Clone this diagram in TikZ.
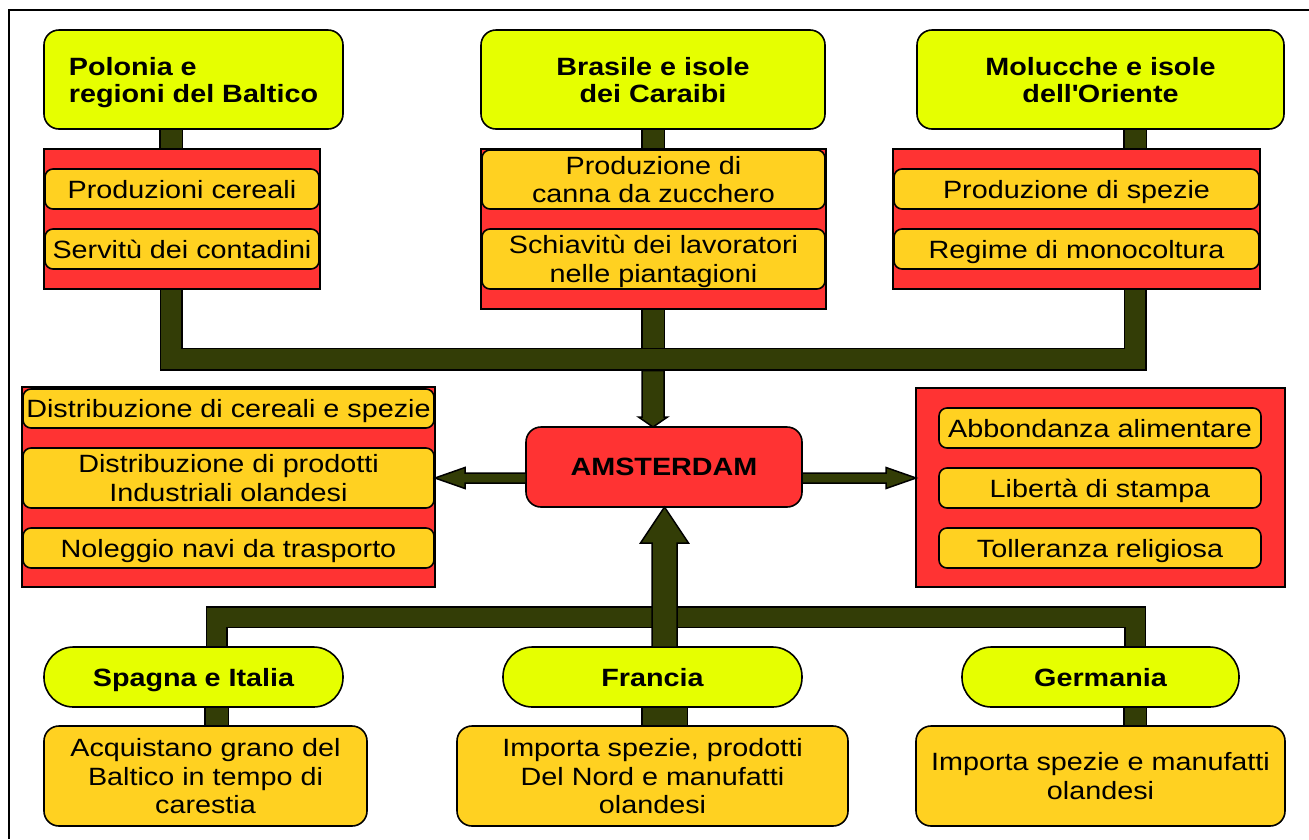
\documentclass[tikz,border=0pt]{standalone}
\usepackage{fontspec}
\setmainfont{Liberation Sans}[FakeStretch=1.15]
\pgfdeclarelayer{bg}
\pgfsetlayers{bg,main}
\definecolor{yelc}{RGB}{230,255,0}
\definecolor{redc}{RGB}{255,51,51}
\definecolor{orac}{RGB}{255,209,33}
\definecolor{olivec}{RGB}{51,61,6}
\tikzset{
  base/.style={draw=black, line width=1.6pt, inner sep=0pt, outer sep=0pt, align=center, text depth=0pt},
  title/.style={base, fill=yelc, rounded corners=15pt, font=\fontsize{25}{27}\selectfont\bfseries},
  redbox/.style={base, fill=redc},
  item/.style={base, fill=orac, rounded corners=8pt, font=\fontsize{25}{28.5}\selectfont},
  stad/.style={base, fill=yelc, rounded corners=29.5pt, font=\fontsize{25}{27}\selectfont\bfseries},
  info/.style={base, fill=orac, rounded corners=15pt, font=\fontsize{25}{28.5}\selectfont},
  hub/.style={base, fill=redc, rounded corners=15pt, font=\fontsize{25}{27}\selectfont\bfseries},
  pipe/.style={draw=black, line width=1.5pt, double=olivec, double distance=#1, line join=miter},
  pipe/.default=21pt,
  arr/.style={draw=black, fill=olivec, line width=1.5pt, line join=miter}
}
\begin{document}
\begin{tikzpicture}[x=1pt,y=-1pt]
\useasboundingbox (0,0) rectangle (1309,839);
\begin{pgfonlayer}{bg}
\fill[white] (0,0) rectangle (1309,839);
\end{pgfonlayer}
\draw[line width=2pt] (9,839) -- (9,10) -- (1309,10);

% columns and bar levels
\coordinate (c1) at (171,0);
\coordinate (c2) at (653,0);
\coordinate (c3) at (1135,0);
\coordinate (c4) at (216.5,0);
\coordinate (c5) at (664.5,0);
\coordinate (bar1) at (0,359);
\coordinate (bar2) at (0,617);
\coordinate (ay) at (0,478);

% top titles
\node[title, minimum width=299pt, minimum height=99pt, align=left] (pol) at (193.5,79.5) {Polonia e\\regioni del Baltico};
\node[title, minimum width=344pt, minimum height=99pt] (bra) at (653,79.5) {Brasile e isole\\dei Caraibi};
\node[title, minimum width=367pt, minimum height=99pt] (mol) at (1100.5,79.5) {Molucche e isole\\dell\textquotesingle Oriente};

% red panels top
\node[redbox, minimum width=276pt, minimum height=140pt] (polr) at (182,219) {};
\node[redbox, minimum width=345pt, minimum height=160pt] (brar) at (653.5,229) {};
\node[redbox, minimum width=367pt, minimum height=140pt] (molr) at (1076.5,219) {};

\node[item, minimum width=274pt, minimum height=40pt] (pol1) at (182,189) {Produzioni cereali};
\node[item, minimum width=274pt, minimum height=40pt] (pol2) at (182,249) {Servitù dei contadini};
\node[item, minimum width=343pt, minimum height=59pt] (bra1) at (653.5,179.5) {Produzione di\\canna da zucchero};
\node[item, minimum width=343pt, minimum height=60pt] (bra2) at (653.5,259) {Schiavitù dei lavoratori\\nelle piantagioni};
\node[item, minimum width=365pt, minimum height=40pt] (mol1) at (1076.5,189) {Produzione di spezie};
\node[item, minimum width=365pt, minimum height=40pt] (mol2) at (1076.5,249) {Regime di monocoltura};

% center
\node[hub, minimum width=276pt, minimum height=80pt] (ams) at (664,467) {AMSTERDAM};

% left panel
\node[redbox, minimum width=413pt, minimum height=200pt] (lred) at (228.5,487) {};
\node[item, minimum width=411pt, minimum height=39pt] (l1) at (228.5,408.5) {Distribuzione di cereali e spezie};
\node[item, minimum width=411pt, minimum height=60pt] (l2) at (228.5,478) {Distribuzione di prodotti\\Industriali olandesi};
\node[item, minimum width=411pt, minimum height=40pt] (l3) at (228.5,548) {Noleggio navi da trasporto};

% right panel
\node[redbox, minimum width=369pt, minimum height=199pt] (rred) at (1100.5,487.5) {};
\node[item, minimum width=322pt, minimum height=40pt] (r1) at (1100,428) {Abbondanza alimentare};
\node[item, minimum width=322pt, minimum height=40pt] (r2) at (1100,488) {Libertà di stampa};
\node[item, minimum width=322pt, minimum height=40pt] (r3) at (1100,548) {Tolleranza religiosa};

% bottom
\node[stad, minimum width=299pt, minimum height=60pt] (spa) at (193.5,677) {Spagna e Italia};
\node[stad, minimum width=299pt, minimum height=60pt] (fra) at (652.5,677) {Francia};
\node[stad, minimum width=277pt, minimum height=60pt] (ger) at (1100.5,677) {Germania};

\node[info, minimum width=323pt, minimum height=100pt] (spab) at (205.5,776) {Acquistano grano del\\Baltico in tempo di\\carestia};
\node[info, minimum width=391pt, minimum height=100pt] (frab) at (652.5,776) {Importa spezie, prodotti\\Del Nord e manufatti\\olandesi};
\node[info, minimum width=369pt, minimum height=100pt] (gerb) at (1100.5,776) {Importa spezie e manufatti\\olandesi};

% connectors (behind nodes)
\begin{pgfonlayer}{bg}
\draw[pipe] (pol.south -| c1) -- (polr.north -| c1);
\draw[pipe] (bra.south -| c2) -- (brar.north -| c2);
\draw[pipe] (mol.south -| c3) -- (molr.north -| c3);
\draw[pipe] (brar.south -| c2) -- (c2 |- bar1);
\draw[pipe=20pt] (polr.south -| c1) -- (c1 |- bar1) -- (c3 |- bar1) -- (molr.south -| c3);
\draw[pipe=19pt] (spa.north -| c4) -- (c4 |- bar2) -- (c3 |- bar2) -- (ger.north -| c3);
\draw[pipe=22pt] (spa.south -| c4) -- (spab.north -| c4);
\draw[pipe=44pt] (fra.south -| c5) -- (frab.north -| c5);
\draw[pipe] (ger.south -| c3) -- (gerb.north -| c3);
\end{pgfonlayer}

% block arrows
\draw[arr] (ams.north -| c2) -- ++(14.5,-10) -- ++(-3.5,0) -- ++(0,-46.5) -- ++(-22,0) -- ++(0,46.5) -- ++(-3.5,0) -- cycle;
\draw[arr] (lred.east |- ay) -- ++(30,-10.5) -- ++(0,5.5) -- ++(61,0) -- ++(0,10) -- ++(-61,0) -- ++(0,5.5) -- cycle;
\draw[arr] (rred.west |- ay) -- ++(-30,-10.5) -- ++(0,5.5) -- ++(-84,0) -- ++(0,10) -- ++(84,0) -- ++(0,5.5) -- cycle;
\draw[arr] (ams.south -| c5) -- ++(24,36) -- ++(-11.5,0) -- ++(0,104) -- ++(-25,0) -- ++(0,-104) -- ++(-11.5,0) -- cycle;
\end{tikzpicture}
\end{document}
